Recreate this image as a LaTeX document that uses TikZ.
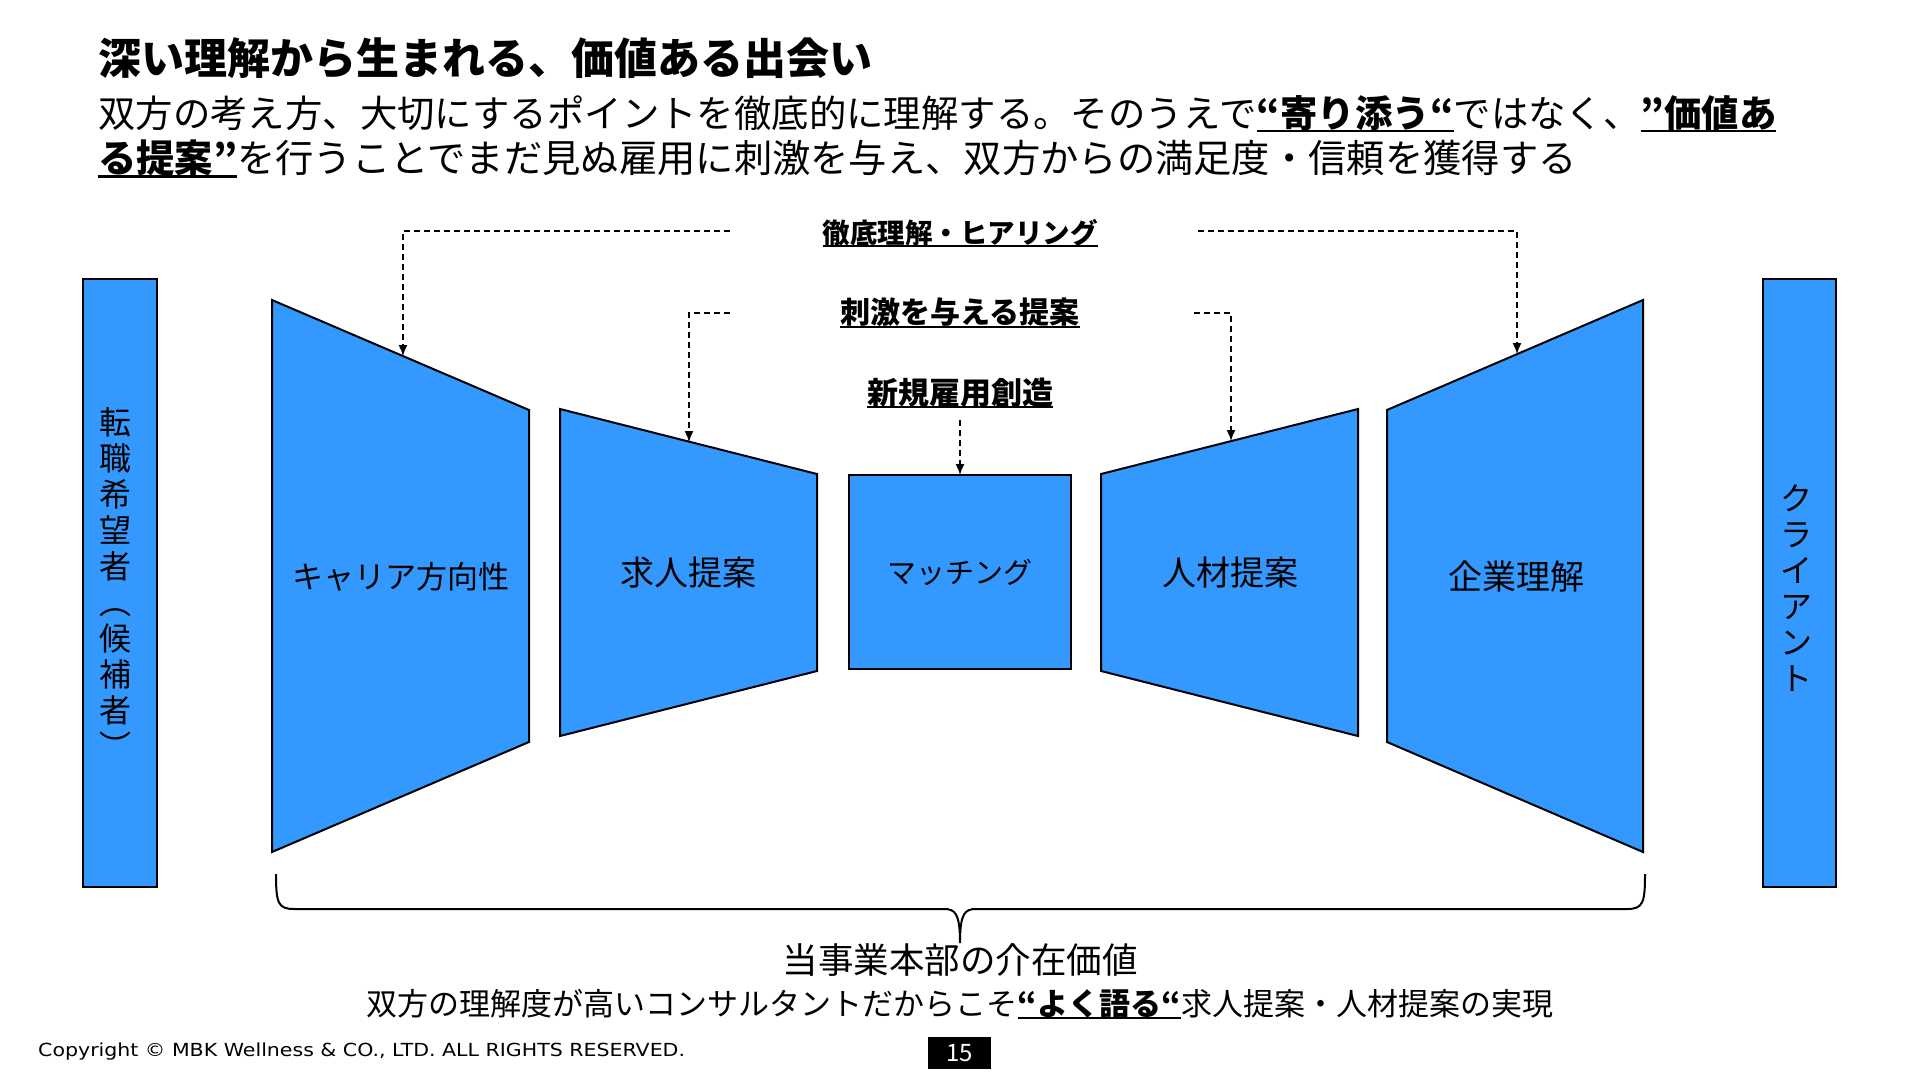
\documentclass[tikz,border=0pt]{standalone}
\usepackage{fontspec}
\setmainfont{Noto Sans CJK JP}
\newfontfamily\copyfont[FakeStretch=1.14]{DejaVu Sans}
\usetikzlibrary{positioning,calc}
\usetikzlibrary{arrows.meta}
\definecolor{PanelBlue}{RGB}{51,153,255}
\newcommand{\ulmark}[1]{\setbox0\hbox{#1}\rlap{\rule[-0.13em]{\wd0}{0.07em}}\box0}
\tikzset{panel/.style={draw=black,fill=PanelBlue,line width=2pt,line join=miter}, lab/.style={inner sep=0pt,font=\fontsize{34}{36}\selectfont}, hint/.style={inner sep=0pt,font=\bfseries\fontsize{30}{32}\selectfont}, guide/.style={draw=black,line width=1.5pt,dash pattern=on 6pt off 4pt,-{Latex[length=11pt,width=9pt]}}}

\begin{document}
\begin{tikzpicture}[x=1pt,y=-1pt]
\useasboundingbox (0,0) rectangle (1920,1080);
\fill[white] (0,0) rectangle (1920,1080);
% heading
\node[anchor=west,inner sep=0pt,font=\bfseries\fontsize{43}{48}\selectfont] (title) at (98,58) {深い理解から生まれる、価値ある出会い};
\node[anchor=west,inner sep=0pt,font=\fontsize{37.4}{42}\selectfont] (subA) at (98,114) {双方の考え方、大切にするポイントを徹底的に理解する。そのうえで\ulmark{\bfseries“寄り添う“}ではなく、\ulmark{\bfseries ”価値あ}};
\node[anchor=west,inner sep=0pt,font=\fontsize{38.3}{42}\selectfont] (subB) at (98,159) {\ulmark{\bfseries る提案”}を行うことでまだ見ぬ雇用に刺激を与え、双方からの満足度・信頼を獲得する};
% side bars
\coordinate (la) at (83,279);
\coordinate (lb) at (157,887);
\coordinate (ra) at (1763,279);
\coordinate (rb) at (1836,887);
\draw[panel] (la) rectangle (lb);
\draw[panel] (ra) rectangle (rb);
\node[lab,font=\fontsize{32}{36}\selectfont,align=center] (seeker) at (115,583) {転\\職\\希\\望\\者\\︵\\候\\補\\者\\︶};
\node[lab,font=\fontsize{32}{36}\selectfont,align=center] (client) at (1796,588) {ク\\ラ\\イ\\ア\\ン\\ト};
% funnel panels
\coordinate (pa) at (272,300);
\coordinate (pb) at (529,410);
\coordinate (pc) at (529,742);
\coordinate (pd) at (272,852);
\coordinate (qa) at (560,409);
\coordinate (qb) at (817,474);
\coordinate (qc) at (817,671);
\coordinate (qd) at (560,736);
\coordinate (ma) at (849,475);
\coordinate (mb) at (1071,669);
\coordinate (sa) at (1101,474);
\coordinate (sb) at (1358,409);
\coordinate (sc) at (1358,736);
\coordinate (sd) at (1101,671);
\coordinate (ka) at (1387,410);
\coordinate (kb) at (1643,300);
\coordinate (kc) at (1643,852);
\coordinate (kd) at (1387,742);
\draw[panel] (pa)--(pb)--(pc)--(pd)--cycle;
\draw[panel] (qa)--(qb)--(qc)--(qd)--cycle;
\draw[panel] (ma) rectangle (mb);
\draw[panel] (sa)--(sb)--(sc)--(sd)--cycle;
\draw[panel] (ka)--(kb)--(kc)--(kd)--cycle;
\node[lab,font=\fontsize{31}{36}\selectfont] (career) at (401,577) {キャリア方向性};
\node[lab] (jobs) at (688,573) {求人提案};
\node[lab,font=\fontsize{29}{36}\selectfont] (match) at (960,572) {マッチング};
\node[lab] (talent) at (1230,573) {人材提案};
\node[lab] (company) at (1516,577) {企業理解};
% dashed hints
\node[hint,font=\bfseries\fontsize{27.5}{32}\selectfont] (hear) at (960,233) {\ulmark{徹底理解・ヒアリング}};
\node[hint] (stim) at (960,313) {\ulmark{刺激を与える提案}};
\node[hint,font=\bfseries\fontsize{31}{32}\selectfont] (newjob) at (960,393) {\ulmark{新規雇用創造}};
\coordinate (hearL) at (730,231);
\coordinate (hearR) at (1198,231);
\coordinate (stimL) at (730,313);
\coordinate (stimR) at (1194,313);
\coordinate (newS) at (960,420);
\coordinate (tcareer) at (403,356);
\coordinate (tjobs) at (689,442);
\coordinate (tmatch) at (960,475);
\coordinate (ttalent) at (1231,441);
\coordinate (tcompany) at (1517,354);
\draw[guide] (hearL) -| (tcareer);
\draw[guide] (hearR) -| (tcompany);
\draw[guide] (stimL) -| (tjobs);
\draw[guide] (stimR) -| (ttalent);
\draw[guide] (newS) -- (tmatch);
% brace
\coordinate (bl) at (276,874);
\coordinate (br) at (1645,874);
\coordinate (btip) at (960,943);
\draw[line width=2pt] (bl) .. controls (276,903) and (278,909) .. (294,909) -- (944,909) .. controls (955,909) and (960,913) .. (btip) .. controls (960,913) and (965,909) .. (976,909) -- (1627,909) .. controls (1643,909) and (1645,903) .. (br);
\node[inner sep=0pt,font=\fontsize{35.5}{38}\selectfont] (worth) at (960,960) {当事業本部の介在価値};
\node[inner sep=0pt,font=\fontsize{31}{36}\selectfont] (worthB) at (960,1004) {双方の理解度が高いコンサルタントだからこそ\ulmark{\bfseries“よく語る“}求人提案・人材提案の実現};
% footer
\node[anchor=west,inner sep=0pt,font=\copyfont\fontsize{18}{20}\selectfont] (copy) at (38,1052) {Copyright © MBK Wellness \& CO., LTD. ALL RIGHTS RESERVED.};
\fill[black] (928,1037) rectangle (991,1069);
\node[text=white,inner sep=0pt,font=\fontsize{24}{26}\selectfont] (page) at (959.5,1053) {15};
\end{tikzpicture}
\end{document}
